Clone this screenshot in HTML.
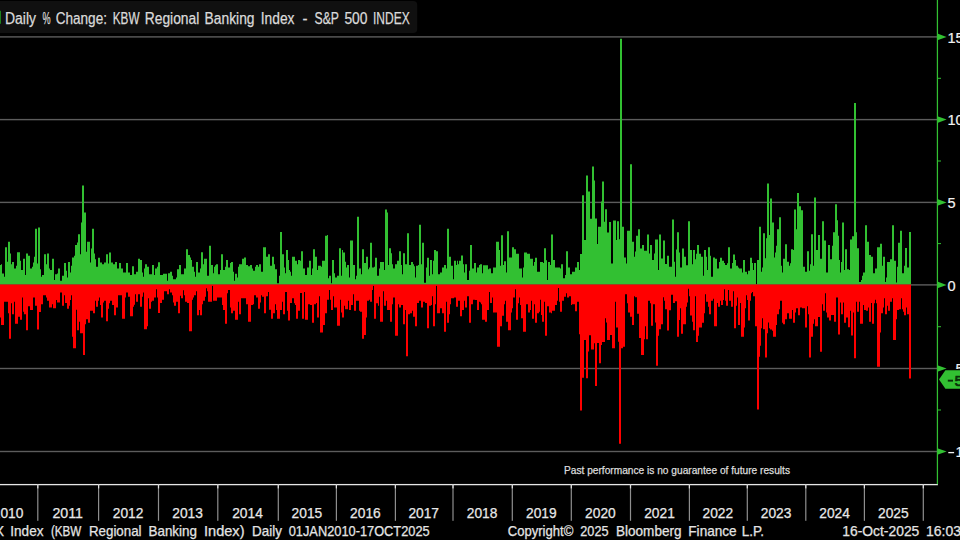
<!DOCTYPE html>
<html><head><meta charset="utf-8"><title>Daily % Change: KBW Regional Banking Index - S&amp;P 500 INDEX</title>
<style>
html,body{margin:0;padding:0;background:#000;}
body{width:960px;height:540px;overflow:hidden;font-family:"Liberation Sans",sans-serif;}
svg{display:block;}
</style></head><body>
<svg width="960" height="540" viewBox="0 0 960 540" font-family="'Liberation Sans', sans-serif">
<rect width="960" height="540" fill="#000"/>
<rect x="0" y="36.20" width="937" height="1.4" fill="#5c5c5c"/>
<rect x="0" y="118.90" width="937" height="1.4" fill="#5c5c5c"/>
<rect x="0" y="201.70" width="937" height="1.4" fill="#5c5c5c"/>
<rect x="0" y="284.20" width="937" height="1.4" fill="#5c5c5c"/>
<rect x="0" y="367.80" width="937" height="1.4" fill="#5c5c5c"/>
<rect x="0" y="450.80" width="937" height="1.4" fill="#5c5c5c"/>
<path d="M0,284.5H0V265.0H1V264.2H2V273.5H4V276.7H5V247.2H7V261.7H8V241.7H10V253.5H11V264.2H12V262.0H14V268.5H16V265.8H17V252.2H20V260.8H21V270.0H23V258.7H25V275.0H26V253.5H28V255.8H30V268.5H32V266.7H33V262.5H34V256.7H35V228.7H37V263.5H38V227.5H40V269.2H41V276.7H42V275.0H44V254.2H46V264.2H47V253.5H49V268.5H50V270.0H52V258.7H54V280.0H55V274.2H57V273.5H58V268.5H60V280.8H62V275.8H64V263.0H66V270.8H67V277.5H68V262.0H70V272.5H71V265.8H72V257.5H74V255.8H75V245.0H77V242.5H78V234.2H80V254.2H81V222.5H82V185.5H84V212.5H86V251.7H87V241.7H90V262.5H91V248.5H92V228.7H94V253.5H95V259.2H96V266.7H98V257.8H100V262.5H102V264.2H104V262.5H106V254.2H108V263.5H109V252.5H111V262.5H113V264.2H115V262.0H117V268.5H119V263.0H121V268.5H123V272.5H126V263.0H128V272.5H130V275.0H132V266.2H134V274.2H136V271.7H138V258.7H140V260.0H142V272.5H143V276.7H144V268.5H145V264.2H147V266.7H149V274.2H152V265.0H154V275.0H155V268.5H157V266.7H158V262.2H160V275.0H163V273.8H167V280.8H168V273.3H170V271.7H172V275.8H173V279.2H176V277.5H177V269.2H179V265.0H181V274.2H184V268.5H186V249.2H188V255.0H190V257.5H191V260.0H192V266.7H194V271.7H195V276.7H196V262.0H198V272.5H200V268.5H201V252.2H203V264.2H204V258.7H207V275.8H209V245.8H211V265.0H213V273.3H214V266.7H215V265.3H216V264.2H218V274.2H220V270.0H221V254.2H223V270.0H225V266.7H226V260.0H228V267.5H230V263.0H231V262.0H233V271.7H234V280.8H235V273.8H237V277.5H238V266.7H239V264.2H242V258.7H244V257.5H246V265.0H248V266.2H250V265.0H252V268.5H253V270.8H255V266.7H256V265.0H258V266.7H259V264.2H261V271.7H263V247.2H266V256.7H268V254.2H270V265.8H272V256.7H274V264.2H275V269.2H277V283.3H279V275.8H280V232.0H282V254.2H284V267.5H285V273.3H286V250.0H288V260.0H289V270.0H290V271.7H291V275.8H292V256.7H295V260.8H297V264.2H298V260.0H300V260.8H301V251.2H303V268.5H305V275.0H307V267.5H309V260.8H311V275.0H312V268.5H313V249.2H315V256.7H317V270.0H318V265.8H321V266.7H322V260.8H325V235.8H327V235.0H328V278.3H329V275.8H331V283.3H332V260.0H334V273.3H335V277.5H337V275.8H339V248.3H341V275.8H342V250.0H343V252.5H345V261.7H346V267.5H347V265.0H349V277.5H350V240.5H353V265.0H355V279.2H356V275.8H357V216.7H359V268.5H361V274.2H362V249.2H364V263.0H366V256.7H368V269.2H369V267.5H370V242.8H372V267.5H374V266.7H375V257.8H377V275.8H379V268.5H380V262.0H384V270.0H385V209.5H387V212.5H388V265.0H389V248.3H391V253.3H392V264.2H393V268.5H395V264.2H397V260.8H399V251.2H401V265.0H402V274.2H403V253.3H405V264.2H407V233.3H409V265.0H411V262.0H413V264.2H414V266.2H415V277.5H416V265.8H418V265.0H419V224.7H421V264.2H422V242.8H424V282.8H426V267.5H427V257.8H429V275.8H430V260.0H432V274.2H433V260.8H434V250.0H436V251.2H438V274.2H440V272.5H442V267.5H444V265.0H446V268.5H447V228.8H449V256.7H451V265.8H453V279.2H454V260.8H456V265.0H457V260.8H458V264.2H459V260.8H461V255.5H463V264.2H464V272.5H465V264.2H467V280.0H469V270.8H470V245.0H472V268.5H474V263.0H476V272.5H477V267.5H479V265.0H480V264.2H482V273.3H483V265.3H488V269.2H489V268.5H491V273.3H493V267.5H496V241.7H499V250.0H500V265.8H501V235.3H503V265.0H504V261.2H506V272.5H507V231.2H509V257.5H512V247.2H514V249.2H516V253.7H519V268.5H522V277.5H523V267.5H524V252.5H527V253.7H530V258.7H533V265.8H534V262.0H535V257.8H537V271.7H540V262.0H543V263.0H544V248.3H546V260.3H547V280.0H548V262.0H550V265.0H551V234.5H553V260.0H555V267.5H560V268.5H561V264.2H563V278.3H565V275.0H566V251.2H568V267.5H570V274.2H572V271.7H575V267.5H577V262.0H579V270.0H580V254.0H582V195.3H584V240.0H586V175.5H588V191.5H590V218.7H592V166.5H594V180.5H595V218.5H597V244.0H598V226.7H601V201.5H602V181.5H604V221.7H605V209.2H607V232.5H609V222.0H611V263.5H613V220.5H616V240.0H617V221.2H619V239.2H620V38.8H622V226.7H624V257.5H626V263.5H627V230.8H630V164.2H632V241.7H634V256.7H635V251.5H636V235.8H638V229.2H640V248.5H642V245.0H644V250.8H647V234.5H649V253.5H650V245.0H652V260.0H654V253.5H655V239.5H658V270.0H659V234.5H661V258.5H663V240.5H665V264.0H667V255.8H669V266.7H672V219.5H674V261.7H675V276.7H676V249.5H677V232.2H679V252.5H680V267.5H682V248.5H684V256.7H686V265.3H688V221.2H690V250.0H692V264.2H693V250.0H695V259.2H696V253.7H697V245.0H699V253.7H701V256.7H703V275.8H704V250.0H706V256.7H707V270.0H708V247.2H710V255.8H711V276.7H713V257.5H715V258.7H717V268.5H719V262.0H720V257.8H722V260.8H724V263.0H725V265.0H727V263.3H728V247.2H730V268.5H732V263.0H733V254.5H735V260.0H736V265.8H738V267.5H739V268.5H742V272.5H743V260.0H745V271.7H747V274.2H748V270.8H750V257.8H752V263.0H753V270.0H754V263.0H756V284.2H757V260.0H759V226.7H761V271.7H762V267.5H763V233.3H765V258.3H766V238.3H767V183.5H769V235.0H770V198.5H772V222.5H774V257.5H775V252.5H776V245.8H777V229.2H779V217.2H781V265.8H782V272.5H783V258.7H785V244.2H787V261.7H789V265.8H790V263.3H791V249.2H793V250.0H794V209.5H796V229.2H797V193.0H799V206.3H801V210.3H803V266.7H805V271.7H807V251.2H809V270.8H810V264.2H811V234.2H813V265.8H814V197.5H816V250.0H818V235.0H820V258.7H822V221.2H824V240.5H826V272.5H828V245.0H830V259.2H832V245.8H833V232.2H835V204.2H837V220.3H838V235.8H839V260.0H840V272.5H841V262.0H842V222.5H844V270.0H845V249.2H847V269.2H849V270.0H850V239.5H852V236.2H854V102.9H856V232.2H857V248.3H859V282.0H861V280.0H862V275.8H863V272.5H865V225.3H867V241.7H869V255.0H871V256.7H873V273.3H875V268.5H877V247.2H880V243.7H882V265.8H883V256.7H885V282.0H886V277.5H887V262.0H890V259.2H892V225.3H894V260.8H896V282.5H897V266.7H898V242.8H900V230.8H902V273.3H904V265.8H905V248.0H907V267.5H909V232.0H911V284.5Z" fill="#32c032"/>
<path d="M0,284.5H0V317.5H1V325.0H4V301.7H8V313.3H9V338.7H11V303.3H12V314.2H14V301.7H15V323.7H18V316.7H20V319.7H22V297.5H23V311.7H24V314.2H26V330.3H28V306.3H30V310.0H33V297.5H35V305.8H37V329.5H39V312.0H41V304.2H43V295.3H46V297.5H47V300.8H49V307.5H52V304.2H53V308.3H56V300.0H57V302.5H60V292.5H62V305.8H64V295.3H65V303.0H67V308.7H69V305.8H70V300.0H71V295.3H72V336.7H73V348.3H76V309.7H77V330.3H79V321.7H80V333.3H83V355.0H85V324.2H86V319.2H88V322.8H90V310.8H93V313.3H95V300.8H96V306.7H98V300.8H99V297.5H100V305.0H101V317.5H103V302.5H104V300.8H106V321.3H108V308.7H109V303.3H110V300.8H112V305.0H114V315.3H116V307.5H118V295.3H122V318.7H125V297.5H126V292.5H128V296.7H130V316.3H133V306.7H134V304.7H135V294.2H136V301.7H138V294.2H140V306.7H142V296.7H143V292.5H144V329.2H147V326.3H148V298.3H149V308.7H151V301.7H152V300.8H154V297.5H156V289.2H157V297.5H158V313.0H160V303.0H162V299.7H164V291.3H167V294.2H169V289.2H170V292.5H172V295.3H173V302.5H174V305.8H176V301.7H178V313.3H180V295.8H181V298.3H183V290.3H184V295.3H185V301.7H187V303.0H189V331.3H192V299.7H193V297.5H194V295.3H196V291.3H197V315.3H199V310.0H200V315.3H202V304.2H203V300.8H205V296.7H206V288.3H207V291.3H208V301.7H212V285.8H213V300.8H217V297.5H222V305.0H223V310.0H225V323.7H227V293.3H228V290.0H230V307.5H231V313.3H233V310.8H235V319.7H238V301.7H239V314.2H241V298.3H246V304.2H248V321.7H251V305.0H253V304.2H254V295.3H256V297.5H258V308.7H260V302.5H261V295.3H262V296.7H264V313.3H266V296.3H268V292.0H269V309.7H271V318.7H273V313.3H275V304.2H276V310.0H277V318.7H280V310.0H282V301.7H283V314.2H285V292.0H287V310.8H288V320.5H290V303.0H292V298.3H294V303.3H295V305.0H296V318.7H298V310.8H300V293.0H302V318.7H304V292.0H305V319.7H308V304.2H310V305.0H312V322.8H314V304.2H316V303.0H317V317.5H319V296.3H320V332.5H323V325.0H325V313.3H327V299.7H329V290.0H330V299.7H331V310.0H333V296.3H334V307.5H337V325.8H340V299.7H341V312.5H342V317.5H344V305.8H345V309.2H348V300.8H349V310.0H351V305.0H353V294.2H354V310.8H356V300.8H359V310.8H360V311.7H362V338.7H364V335.0H366V317.5H367V300.8H369V299.7H370V301.7H372V290.0H373V285.8H374V318.7H376V303.3H378V305.8H379V296.7H380V321.7H383V291.3H384V305.8H386V300.8H387V310.0H390V321.7H392V304.2H393V297.5H395V335.8H398V304.2H399V307.5H401V305.0H403V324.2H405V310.0H406V356.3H408V314.2H410V313.3H412V310.8H413V316.7H415V326.2H417V303.0H419V300.8H421V307.5H423V301.7H425V303.0H427V328.3H429V305.8H431V305.0H432V296.3H433V326.2H435V304.2H436V285.8H437V313.3H440V308.3H442V313.3H444V331.7H446V301.7H447V322.8H449V314.2H450V304.2H451V298.3H454V297.5H456V306.7H458V300.8H460V316.3H462V310.0H464V300.8H465V307.5H467V296.3H469V322.8H471V304.2H473V299.7H475V300.0H477V310.0H479V301.7H480V302.5H481V304.2H482V319.7H485V321.7H487V310.0H489V292.0H490V303.0H492V297.5H493V312.5H497V346.7H500V326.2H502V315.8H504V304.2H505V300.8H506V321.7H508V330.3H511V312.5H512V308.3H513V297.5H515V289.2H516V319.7H518V303.3H519V297.5H520V305.0H521V318.3H523V331.7H526V304.2H528V312.5H530V310.0H531V300.8H532V318.7H534V304.2H535V322.8H537V313.3H539V311.7H540V299.7H541V315.0H542V321.7H544V301.7H545V335.8H547V306.3H549V312.5H551V313.3H552V310.8H555V305.0H557V300.8H558V288.0H559V301.7H560V311.7H562V300.8H564V296.7H566V293.3H567V297.5H569V296.3H571V305.0H572V304.2H575V311.2H577V301.7H579V334.2H580V410.5H582V377.8H584V340.0H586V378.2H588V351.5H589V335.3H591V349.5H594V343.3H595V386.0H597V343.0H599V363.3H601V345.0H602V342.0H605V318.3H606V322.5H607V340.0H610V335.0H612V348.3H615V301.7H616V327.5H618V341.7H619V443.8H621V348.3H623V346.7H625V294.2H627V303.3H628V312.5H630V316.7H632V325.0H634V296.3H635V297.2H637V313.8H639V338.0H641V355.0H644V339.2H645V326.3H646V339.2H648V300.8H650V303.3H651V325.8H653V304.2H655V322.5H656V365.8H658V335.8H659V329.2H661V324.2H663V297.2H664V300.8H665V309.2H667V330.5H669V310.3H671V294.7H673V303.0H675V301.3H677V336.7H679V320.0H680V308.3H681V333.7H683V324.2H686V306.7H687V302.5H688V288.7H689V296.3H690V315.5H692V321.7H693V330.3H695V296.3H696V342.0H698V335.8H699V327.5H702V322.8H704V313.3H705V294.2H706V301.7H708V306.7H709V314.2H711V300.8H713V298.7H714V326.2H717V303.0H718V306.7H720V300.8H721V305.0H723V300.0H724V289.2H725V300.8H726V305.8H728V290.0H729V300.8H731V306.7H733V291.3H734V328.3H736V305.8H737V297.5H738V325.0H740V303.0H741V336.7H744V327.5H745V308.3H746V295.3H747V300.0H748V320.5H750V300.8H751V293.3H752V292.0H753V296.3H755V326.2H757V409.6H759V356.7H760V345.8H761V328.3H762V318.3H763V329.2H765V357.5H767V333.3H768V322.5H769V328.3H770V329.5H772V330.8H773V336.7H776V325.0H777V314.2H779V309.2H780V300.8H782V322.8H783V324.2H785V319.2H787V313.3H789V318.7H792V310.0H793V322.8H795V312.5H796V308.3H798V315.3H800V307.5H802V308.3H805V327.5H807V306.3H808V314.2H809V357.5H811V336.7H813V323.7H814V319.2H815V326.2H818V317.0H820V351.7H822V304.2H823V310.8H825V293.3H826V312.5H827V317.5H829V320.5H831V315.0H834V321.7H836V297.5H838V334.5H840V302.5H841V314.2H843V302.5H844V322.8H846V317.5H848V327.2H850V310.8H851V335.5H853V312.5H854V358.3H856V301.7H857V311.7H859V301.7H860V323.7H863V305.0H864V310.0H866V310.8H868V307.5H869V321.7H871V303.0H872V323.7H874V303.3H875V299.7H876V303.3H877V366.7H880V332.5H881V313.3H883V307.5H884V298.3H885V314.2H887V305.8H888V310.8H890V301.7H892V298.3H893V340.0H896V319.2H897V310.0H899V309.2H901V298.3H902V309.2H903V311.7H904V315.3H906V307.5H907V314.2H909V378.4H911V284.5Z" fill="#f00"/>
<rect x="0" y="483.95" width="938" height="1.3" fill="#e6e6e6"/>
<rect x="37.2" y="484.6" width="1.2" height="36.2" fill="#8e8e8e"/>
<rect x="37.2" y="484.6" width="1.2" height="3.8" fill="#e0e0e0"/>
<rect x="98.0" y="484.6" width="1.2" height="36.2" fill="#8e8e8e"/>
<rect x="98.0" y="484.6" width="1.2" height="3.8" fill="#e0e0e0"/>
<rect x="157.9" y="484.6" width="1.2" height="36.2" fill="#8e8e8e"/>
<rect x="157.9" y="484.6" width="1.2" height="3.8" fill="#e0e0e0"/>
<rect x="217.2" y="484.6" width="1.2" height="36.2" fill="#8e8e8e"/>
<rect x="217.2" y="484.6" width="1.2" height="3.8" fill="#e0e0e0"/>
<rect x="277.7" y="484.6" width="1.2" height="36.2" fill="#8e8e8e"/>
<rect x="277.7" y="484.6" width="1.2" height="3.8" fill="#e0e0e0"/>
<rect x="335.8" y="484.6" width="1.2" height="36.2" fill="#8e8e8e"/>
<rect x="335.8" y="484.6" width="1.2" height="3.8" fill="#e0e0e0"/>
<rect x="394.8" y="484.6" width="1.2" height="36.2" fill="#8e8e8e"/>
<rect x="394.8" y="484.6" width="1.2" height="3.8" fill="#e0e0e0"/>
<rect x="452.4" y="484.6" width="1.2" height="36.2" fill="#8e8e8e"/>
<rect x="452.4" y="484.6" width="1.2" height="3.8" fill="#e0e0e0"/>
<rect x="511.7" y="484.6" width="1.2" height="36.2" fill="#8e8e8e"/>
<rect x="511.7" y="484.6" width="1.2" height="3.8" fill="#e0e0e0"/>
<rect x="570.7" y="484.6" width="1.2" height="36.2" fill="#8e8e8e"/>
<rect x="570.7" y="484.6" width="1.2" height="3.8" fill="#e0e0e0"/>
<rect x="629.9" y="484.6" width="1.2" height="36.2" fill="#8e8e8e"/>
<rect x="629.9" y="484.6" width="1.2" height="3.8" fill="#e0e0e0"/>
<rect x="688.8" y="484.6" width="1.2" height="36.2" fill="#8e8e8e"/>
<rect x="688.8" y="484.6" width="1.2" height="3.8" fill="#e0e0e0"/>
<rect x="746.7" y="484.6" width="1.2" height="36.2" fill="#8e8e8e"/>
<rect x="746.7" y="484.6" width="1.2" height="3.8" fill="#e0e0e0"/>
<rect x="805.2" y="484.6" width="1.2" height="36.2" fill="#8e8e8e"/>
<rect x="805.2" y="484.6" width="1.2" height="3.8" fill="#e0e0e0"/>
<rect x="863.8" y="484.6" width="1.2" height="36.2" fill="#8e8e8e"/>
<rect x="863.8" y="484.6" width="1.2" height="3.8" fill="#e0e0e0"/>
<rect x="922.7" y="484.6" width="1.2" height="36.2" fill="#8e8e8e"/>
<rect x="922.7" y="484.6" width="1.2" height="3.8" fill="#e0e0e0"/>
<rect x="936.8" y="0" width="1.25" height="484.3" fill="#32c032"/>
<path d="M937.4,33.6L946.6,36.9L937.4,40.2Z" fill="#32c032"/>
<path d="M937.4,116.3L946.6,119.6L937.4,122.9Z" fill="#32c032"/>
<path d="M937.4,199.1L946.6,202.4L937.4,205.7Z" fill="#32c032"/>
<path d="M937.4,281.6L946.6,284.9L937.4,288.2Z" fill="#32c032"/>
<path d="M937.4,365.2L946.6,368.5L937.4,371.8Z" fill="#32c032"/>
<path d="M937.4,448.2L946.6,451.5L937.4,454.8Z" fill="#32c032"/>
<rect x="937" y="77.8" width="4" height="1" fill="#32c032"/>
<rect x="937" y="160.5" width="4" height="1" fill="#32c032"/>
<rect x="937" y="243.1" width="4" height="1" fill="#32c032"/>
<rect x="937" y="326.2" width="4" height="1" fill="#32c032"/>
<rect x="937" y="409.5" width="4" height="1" fill="#32c032"/>
<rect x="-5" y="1" width="422.2" height="32" rx="4" fill="#101010"/>
<rect x="0" y="10.8" width="0.9" height="13" fill="#1f8f1f"/>
<text x="5.0" y="23.7" font-size="15.6" fill="#dadada" stroke="#dadada" stroke-width="0.25" textLength="31.0" lengthAdjust="spacingAndGlyphs">Daily</text>
<text x="42.4" y="23.7" font-size="15.6" fill="#dadada" stroke="#dadada" stroke-width="0.25" textLength="8.1" lengthAdjust="spacingAndGlyphs">%</text>
<text x="55.7" y="23.7" font-size="15.6" fill="#dadada" stroke="#dadada" stroke-width="0.25" textLength="51.3" lengthAdjust="spacingAndGlyphs">Change:</text>
<text x="112.7" y="23.7" font-size="15.6" fill="#dadada" stroke="#dadada" stroke-width="0.25" textLength="26.8" lengthAdjust="spacingAndGlyphs">KBW</text>
<text x="144.8" y="23.7" font-size="15.6" fill="#dadada" stroke="#dadada" stroke-width="0.25" textLength="54.5" lengthAdjust="spacingAndGlyphs">Regional</text>
<text x="204.6" y="23.7" font-size="15.6" fill="#dadada" stroke="#dadada" stroke-width="0.25" textLength="49.9" lengthAdjust="spacingAndGlyphs">Banking</text>
<text x="260.8" y="23.7" font-size="15.6" fill="#dadada" stroke="#dadada" stroke-width="0.25" textLength="33.7" lengthAdjust="spacingAndGlyphs">Index</text>
<text x="302.5" y="23.7" font-size="15.6" fill="#dadada" stroke="#dadada" stroke-width="0.25" textLength="5.0" lengthAdjust="spacingAndGlyphs">-</text>
<text x="314.6" y="23.7" font-size="15.6" fill="#dadada" stroke="#dadada" stroke-width="0.25" textLength="24.4" lengthAdjust="spacingAndGlyphs">S&amp;P</text>
<text x="344.4" y="23.7" font-size="15.6" fill="#dadada" stroke="#dadada" stroke-width="0.25" textLength="23.1" lengthAdjust="spacingAndGlyphs">500</text>
<text x="373.0" y="23.7" font-size="15.6" fill="#dadada" stroke="#dadada" stroke-width="0.25" textLength="36.7" lengthAdjust="spacingAndGlyphs">INDEX</text>
<text x="-5.5" y="535.7" font-size="14.2" fill="#e4e4e4" stroke="#e4e4e4" stroke-width="0.25" textLength="9.6" lengthAdjust="spacingAndGlyphs">X</text>
<text x="10.3" y="535.7" font-size="14.2" fill="#e4e4e4" stroke="#e4e4e4" stroke-width="0.25" textLength="33.2" lengthAdjust="spacingAndGlyphs">Index</text>
<text x="50.9" y="535.7" font-size="14.2" fill="#e4e4e4" stroke="#e4e4e4" stroke-width="0.25" textLength="30.4" lengthAdjust="spacingAndGlyphs">(KBW</text>
<text x="88.9" y="535.7" font-size="14.2" fill="#e4e4e4" stroke="#e4e4e4" stroke-width="0.25" textLength="52.7" lengthAdjust="spacingAndGlyphs">Regional</text>
<text x="148.5" y="535.7" font-size="14.2" fill="#e4e4e4" stroke="#e4e4e4" stroke-width="0.25" textLength="48.5" lengthAdjust="spacingAndGlyphs">Banking</text>
<text x="204.0" y="535.7" font-size="14.2" fill="#e4e4e4" stroke="#e4e4e4" stroke-width="0.25" textLength="40.5" lengthAdjust="spacingAndGlyphs">Index)</text>
<text x="252.1" y="535.7" font-size="14.2" fill="#e4e4e4" stroke="#e4e4e4" stroke-width="0.25" textLength="29.8" lengthAdjust="spacingAndGlyphs">Daily</text>
<text x="288.7" y="535.7" font-size="14.2" fill="#e4e4e4" stroke="#e4e4e4" stroke-width="0.25" textLength="141.0" lengthAdjust="spacingAndGlyphs">01JAN2010-17OCT2025</text>
<text x="507.7" y="535.7" font-size="14.2" fill="#e4e4e4" stroke="#e4e4e4" stroke-width="0.25" textLength="65.6" lengthAdjust="spacingAndGlyphs">Copyright©</text>
<text x="580.3" y="535.7" font-size="14.2" fill="#e4e4e4" stroke="#e4e4e4" stroke-width="0.25" textLength="28.2" lengthAdjust="spacingAndGlyphs">2025</text>
<text x="616.0" y="535.7" font-size="14.2" fill="#e4e4e4" stroke="#e4e4e4" stroke-width="0.25" textLength="65.5" lengthAdjust="spacingAndGlyphs">Bloomberg</text>
<text x="688.3" y="535.7" font-size="14.2" fill="#e4e4e4" stroke="#e4e4e4" stroke-width="0.25" textLength="48.4" lengthAdjust="spacingAndGlyphs">Finance</text>
<text x="741.7" y="535.7" font-size="14.2" fill="#e4e4e4" stroke="#e4e4e4" stroke-width="0.25" textLength="22.3" lengthAdjust="spacingAndGlyphs">L.P.</text>
<text x="842.3" y="535.7" font-size="14.2" fill="#e4e4e4" stroke="#e4e4e4" stroke-width="0.25" textLength="77.0" lengthAdjust="spacingAndGlyphs">16-Oct-2025</text>
<text x="926.0" y="535.7" font-size="14.2" fill="#e4e4e4" stroke="#e4e4e4" stroke-width="0.25" textLength="54.5" lengthAdjust="spacingAndGlyphs">16:03:27</text>
<text x="564.0" y="474.4" font-size="10.0" fill="#dcdcdc" stroke="#dcdcdc" stroke-width="0.25" textLength="226.0" lengthAdjust="spacingAndGlyphs">Past performance is no guarantee of future results</text>
<text x="-7.2" y="517.9" font-size="15.0" fill="#e8e8e8" stroke="#e8e8e8" stroke-width="0.25" textLength="30.6" lengthAdjust="spacingAndGlyphs">2010</text>
<text x="52.4" y="517.9" font-size="15.0" fill="#e8e8e8" stroke="#e8e8e8" stroke-width="0.25" textLength="30.6" lengthAdjust="spacingAndGlyphs">2011</text>
<text x="112.8" y="517.9" font-size="15.0" fill="#e8e8e8" stroke="#e8e8e8" stroke-width="0.25" textLength="30.6" lengthAdjust="spacingAndGlyphs">2012</text>
<text x="172.3" y="517.9" font-size="15.0" fill="#e8e8e8" stroke="#e8e8e8" stroke-width="0.25" textLength="30.6" lengthAdjust="spacingAndGlyphs">2013</text>
<text x="232.2" y="517.9" font-size="15.0" fill="#e8e8e8" stroke="#e8e8e8" stroke-width="0.25" textLength="30.6" lengthAdjust="spacingAndGlyphs">2014</text>
<text x="291.6" y="517.9" font-size="15.0" fill="#e8e8e8" stroke="#e8e8e8" stroke-width="0.25" textLength="30.6" lengthAdjust="spacingAndGlyphs">2015</text>
<text x="350.1" y="517.9" font-size="15.0" fill="#e8e8e8" stroke="#e8e8e8" stroke-width="0.25" textLength="30.6" lengthAdjust="spacingAndGlyphs">2016</text>
<text x="408.4" y="517.9" font-size="15.0" fill="#e8e8e8" stroke="#e8e8e8" stroke-width="0.25" textLength="30.6" lengthAdjust="spacingAndGlyphs">2017</text>
<text x="466.8" y="517.9" font-size="15.0" fill="#e8e8e8" stroke="#e8e8e8" stroke-width="0.25" textLength="30.6" lengthAdjust="spacingAndGlyphs">2018</text>
<text x="526.0" y="517.9" font-size="15.0" fill="#e8e8e8" stroke="#e8e8e8" stroke-width="0.25" textLength="30.6" lengthAdjust="spacingAndGlyphs">2019</text>
<text x="585.1" y="517.9" font-size="15.0" fill="#e8e8e8" stroke="#e8e8e8" stroke-width="0.25" textLength="30.6" lengthAdjust="spacingAndGlyphs">2020</text>
<text x="644.2" y="517.9" font-size="15.0" fill="#e8e8e8" stroke="#e8e8e8" stroke-width="0.25" textLength="30.6" lengthAdjust="spacingAndGlyphs">2021</text>
<text x="702.5" y="517.9" font-size="15.0" fill="#e8e8e8" stroke="#e8e8e8" stroke-width="0.25" textLength="30.6" lengthAdjust="spacingAndGlyphs">2022</text>
<text x="760.8" y="517.9" font-size="15.0" fill="#e8e8e8" stroke="#e8e8e8" stroke-width="0.25" textLength="30.6" lengthAdjust="spacingAndGlyphs">2023</text>
<text x="819.3" y="517.9" font-size="15.0" fill="#e8e8e8" stroke="#e8e8e8" stroke-width="0.25" textLength="30.6" lengthAdjust="spacingAndGlyphs">2024</text>
<text x="878.0" y="517.9" font-size="15.0" fill="#e8e8e8" stroke="#e8e8e8" stroke-width="0.25" textLength="30.6" lengthAdjust="spacingAndGlyphs">2025</text>
<text x="947.4" y="42.7" font-size="15.5" fill="#f2f2f2" stroke="#f2f2f2" stroke-width="0.2" textLength="16.2" lengthAdjust="spacingAndGlyphs">15</text>
<text x="947.4" y="125.4" font-size="15.5" fill="#f2f2f2" stroke="#f2f2f2" stroke-width="0.2" textLength="16.2" lengthAdjust="spacingAndGlyphs">10</text>
<text x="947.4" y="208.2" font-size="15.5" fill="#f2f2f2" stroke="#f2f2f2" stroke-width="0.2" textLength="8.1" lengthAdjust="spacingAndGlyphs">5</text>
<text x="947.4" y="290.7" font-size="15.5" fill="#f2f2f2" stroke="#f2f2f2" stroke-width="0.2" textLength="8.1" lengthAdjust="spacingAndGlyphs">0</text>
<text x="955.5" y="374.3" font-size="15.5" fill="#f2f2f2" stroke="#f2f2f2" stroke-width="0.2" textLength="8.1" lengthAdjust="spacingAndGlyphs">5</text>
<rect x="948.3" y="451.95" width="5.8" height="1.3" fill="#f2f2f2"/>
<text x="955.5" y="457.3" font-size="15.5" fill="#f2f2f2" stroke="#f2f2f2" stroke-width="0.2" textLength="16.2" lengthAdjust="spacingAndGlyphs">10</text>
<path d="M939,379.6L945.4,370.3H962V388.8H945.4Z" fill="#32c032" stroke="#000" stroke-width="1.6" paint-order="stroke"/>
<rect x="947.8" y="379.7" width="5.2" height="1.9" fill="#083008"/>
<text x="954.6" y="385.7" font-size="15.5" fill="#083008" stroke="#083008" stroke-width="0.7" textLength="31.4" lengthAdjust="spacingAndGlyphs">5.68</text>
</svg>
</body></html>
